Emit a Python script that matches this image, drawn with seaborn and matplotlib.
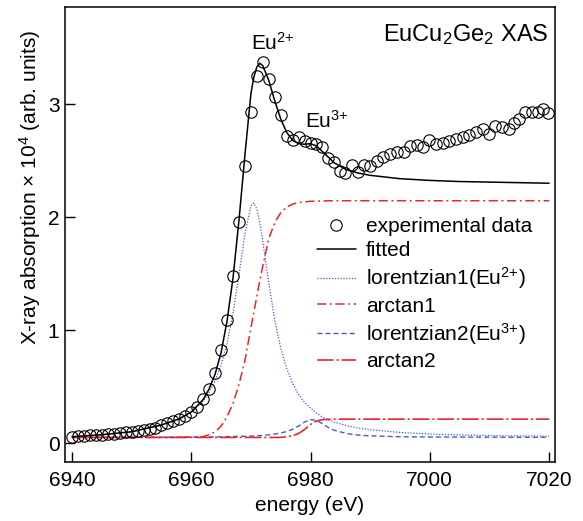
import numpy as np
import matplotlib
matplotlib.use("Agg")
import matplotlib.pyplot as plt
import seaborn as sns

##### data
# experimental points (energy in eV, absorption x 10^4)
e_exp = [6940, 6941, 6942, 6943, 6944, 6945, 6946, 6947, 6948, 6949,
         6950, 6951, 6952, 6953, 6954, 6955, 6956, 6957, 6958, 6959,
         6960, 6961, 6962, 6963, 6964, 6965, 6966, 6967, 6968, 6969,
         6970, 6971, 6972, 6973, 6974, 6975, 6976, 6977, 6978, 6979,
         6980, 6981, 6982, 6983, 6984, 6985,
         6985.8, 6986.9, 6988.0, 6988.9, 6990.0, 6991.1, 6992.2, 6993.3, 6994.5, 6995.7,
         6996.7, 6997.8, 6998.9, 6999.9, 7001.0, 7002.2, 7003.3, 7004.4, 7005.5, 7006.6,
         7007.8, 7008.9, 7010.0, 7010.9, 7012.1, 7013.2, 7014.1, 7015.0, 7016.0, 7017.1,
         7018.2, 7019.0, 7019.9]
y_exp = [0.056, 0.060, 0.063, 0.067, 0.070, 0.074, 0.078, 0.083, 0.088, 0.094,
         0.100, 0.107, 0.115, 0.125, 0.137, 0.160, 0.175, 0.195, 0.215, 0.240,
         0.275, 0.320, 0.390, 0.480, 0.620, 0.820, 1.090, 1.480, 1.960, 2.450,
         2.930, 3.250, 3.375, 3.220, 3.060, 2.900, 2.720, 2.680, 2.705, 2.670,
         2.660, 2.650, 2.620, 2.520, 2.490, 2.410,
         2.390, 2.460, 2.400, 2.460, 2.450, 2.500, 2.530, 2.560, 2.580, 2.580,
         2.630, 2.640, 2.620, 2.680, 2.650, 2.660, 2.675, 2.690, 2.705, 2.725,
         2.750, 2.780, 2.740, 2.805, 2.800, 2.780, 2.830, 2.870, 2.930, 2.930,
         2.930, 2.960, 2.920]

# fit curves
e_fit = [6940, 6945, 6950, 6955, 6958, 6960, 6962, 6963, 6964, 6965,
         6966, 6967, 6968, 6969, 6970, 6970.5, 6971, 6971.5, 6972, 6973,
         6974, 6975, 6976, 6977, 6978, 6979, 6980, 6981, 6982, 6983,
         6984, 6986, 6988, 6990, 6995, 7000, 7005, 7010, 7015, 7020]
fitted = [0.056, 0.074, 0.100, 0.160, 0.215, 0.275, 0.385, 0.480, 0.610, 0.800,
          1.080, 1.460, 1.970, 2.550, 3.090, 3.240, 3.330, 3.362, 3.340, 3.210,
          3.030, 2.870, 2.750, 2.680, 2.650, 2.645, 2.650, 2.630, 2.580, 2.530,
          2.480, 2.420, 2.390, 2.370, 2.340, 2.325, 2.315, 2.310, 2.305, 2.300]
lorentz1 = [0.058, 0.075, 0.100, 0.160, 0.210, 0.270, 0.370, 0.450, 0.550, 0.690,
            0.880, 1.150, 1.490, 1.850, 2.100, 2.125, 2.070, 1.950, 1.780, 1.420,
            1.090, 0.840, 0.660, 0.530, 0.430, 0.360, 0.310, 0.265, 0.230, 0.205,
            0.185, 0.155, 0.133, 0.118, 0.094, 0.080, 0.072, 0.067, 0.063, 0.061]
arctan1 = [0.050, 0.050, 0.050, 0.050, 0.050, 0.052, 0.056, 0.075, 0.100, 0.150,
           0.235, 0.350, 0.520, 0.730, 1.020, 1.160, 1.300, 1.440, 1.570, 1.810,
           1.950, 2.040, 2.090, 2.115, 2.130, 2.135, 2.140, 2.142, 2.143, 2.144,
           2.145, 2.145, 2.145, 2.145, 2.145, 2.145, 2.145, 2.145, 2.145, 2.145]
lorentz2 = [0.051, 0.051, 0.052, 0.052, 0.053, 0.053, 0.054, 0.054, 0.055, 0.056,
            0.057, 0.058, 0.059, 0.060, 0.062, 0.063, 0.065, 0.066, 0.068, 0.073,
            0.080, 0.089, 0.102, 0.122, 0.151, 0.185, 0.208, 0.202, 0.171, 0.138,
            0.113, 0.085, 0.071, 0.064, 0.056, 0.054, 0.053, 0.052, 0.051, 0.051]
arctan2 = [0.050, 0.050, 0.050, 0.050, 0.050, 0.050, 0.050, 0.050, 0.050, 0.050,
           0.050, 0.050, 0.050, 0.050, 0.050, 0.050, 0.050, 0.050, 0.050, 0.050,
           0.050, 0.050, 0.057, 0.065, 0.085, 0.120, 0.165, 0.195, 0.207, 0.210,
           0.212, 0.212, 0.212, 0.212, 0.212, 0.212, 0.212, 0.212, 0.212, 0.212]

##### style
sns.set_style("ticks")
plt.rcParams['font.family'] = ['Liberation Sans', 'DejaVu Sans']
plt.rcParams['mathtext.fontset'] = 'custom'
plt.rcParams['mathtext.rm'] = 'Liberation Sans'
plt.rcParams['mathtext.it'] = 'Liberation Sans:italic'
plt.rcParams['mathtext.bf'] = 'Liberation Sans:bold'
plt.rcParams['text.color'] = 'black'
plt.rcParams['axes.labelcolor'] = 'black'
plt.rcParams['axes.edgecolor'] = 'black'
plt.rcParams['xtick.color'] = 'black'
plt.rcParams['ytick.color'] = 'black'

blue = "#4a5cc0"
red = "#e8262c"

fig = plt.figure(figsize=(5.83, 5.21), dpi=100)
ax = fig.add_axes([0.1115, 0.1138, 0.8405, 0.8728])

sns.lineplot(x=e_fit, y=lorentz1, ax=ax, color=blue, lw=0.9,
             linestyle=(0, (1, 1.3)), label="lorentzian1(Eu$^{2{+}}$)")
sns.lineplot(x=e_fit, y=arctan1, ax=ax, color=red, lw=1.1,
             linestyle=(0, (6, 2.4, 1.2, 2.4)), label="arctan1")
sns.lineplot(x=e_fit, y=lorentz2, ax=ax, color=blue, lw=1.0,
             linestyle=(0, (3.6, 2.2)), label="lorentzian2(Eu$^{3{+}}$)")
sns.lineplot(x=e_fit, y=arctan2, ax=ax, color=red, lw=1.2,
             linestyle=(0, (10, 1.8, 1.2, 1.8)), label="arctan2")
sns.lineplot(x=e_fit, y=fitted, ax=ax, color="black", lw=1.1, label="fitted")
sns.lineplot(x=e_exp, y=y_exp, ax=ax, linestyle="none", marker="o", ms=8.2,
             mfc="none", mec="black", mew=0.8, label="experimental data",
             estimator=None)

ax.set_xlim(6938.83, 7021.0)
ax.set_ylim(-0.165, 3.86)
ax.set_xticks([6940, 6960, 6980, 7000, 7020])
ax.set_yticks([0, 1, 2, 3])
ax.tick_params(direction="in", length=7.2, width=1.0, labelsize=15, pad=7,
               top=False, right=False)
ax.tick_params(axis="y", pad=4)
for s in ax.spines.values():
    s.set_linewidth(1.1)
    s.set_visible(True)

ax.set_xlabel("energy (eV)", fontsize=15, labelpad=4)
ax.set_ylabel("X-ray absorption × 10$^4$ (arb. units)", fontsize=15)
ax.yaxis.set_label_coords(-0.045, 0.604)

ax.text(6970.0, 3.484, "Eu$^{2{+}}$", fontsize=15, ha="left", va="baseline")
ax.text(6979.1, 2.794, "Eu$^{3{+}}$", fontsize=15, ha="left", va="baseline")
ax.text(0.986, 0.926, "EuCu$_2$Ge$_2$ XAS", fontsize=17, ha="right",
        va="baseline", transform=ax.transAxes)

handles, labels = ax.get_legend_handles_labels()
order = [5, 4, 0, 1, 2, 3]
ax.legend([handles[i] for i in order], [labels[i] for i in order],
          loc="upper left", bbox_to_anchor=(0.514, 0.538), frameon=False,
          fontsize=15, handlelength=1.87, handletextpad=0.48,
          labelspacing=0.25, borderpad=0, borderaxespad=0, numpoints=1)

plt.savefig("out.png", dpi=100)
plt.close()
